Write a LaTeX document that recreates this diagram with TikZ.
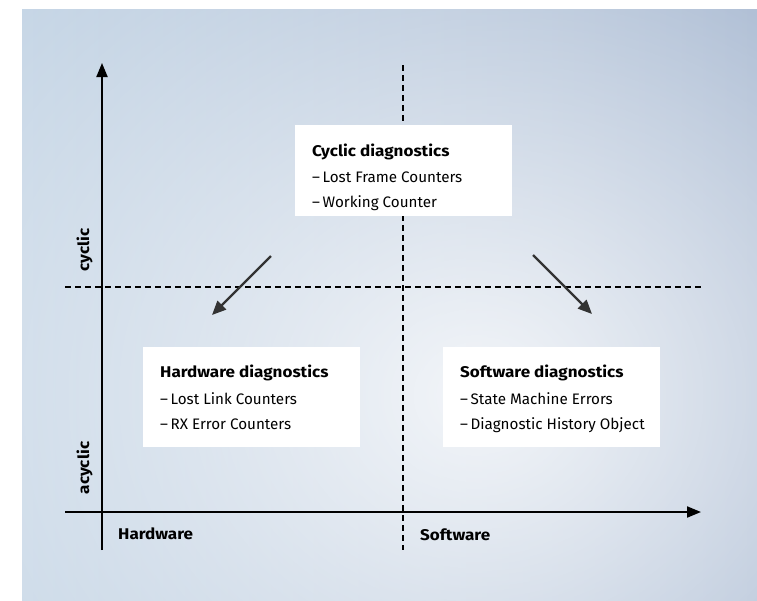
\documentclass[tikz,border=0pt]{standalone}
\usepackage{fontspec}
\setmainfont{Fira Sans}[BoldFeatures={FakeStretch=1.1}]
\usetikzlibrary{arrows.meta,fadings}

\definecolor{panelleft}{HTML}{C6D6E6}
\definecolor{panelright}{HTML}{A2B4CE}
\definecolor{arrowgray}{HTML}{333333}

\tikzfading[name=glowfade, inner color=transparent!0, outer color=transparent!100]

\tikzset{
  axis/.style={line width=2pt, black, -{Triangle[length=14pt,width=11pt]}},
  divider/.style={line width=1.7pt, black, dash pattern=on 6pt off 4pt},
  flow/.style={line width=2.4pt, arrowgray, -{Triangle[length=14pt,width=12pt]}},
  infobox/.style={fill=white, draw=none, minimum width=217pt, inner sep=0pt},
  boxtitle/.style={anchor=base west, inner sep=0pt, font=\fontsize{15.5}{18}\selectfont\bfseries},
  boxline/.style={anchor=base west, inner sep=0pt, font=\fontsize{15.2}{18}\selectfont},
  axislabel/.style={inner sep=0pt, font=\fontsize{15.5}{18}\selectfont\bfseries},
}

\begin{document}
\begin{tikzpicture}[x=1pt,y=-1pt]
\useasboundingbox (0,0) rectangle (757,600);

% background panel with a soft light glow
\shade[left color=panelleft, right color=panelright] (22,9) rectangle (757,600);
\begin{scope}
  \clip (22,9) rectangle (757,600);
  \fill[white, path fading=glowfade, opacity=0.85] (480,395) ellipse (640 and 560);
\end{scope}

% axis and divider end points
\coordinate (vaxisbot) at (102,550);
\coordinate (vaxistop) at (102,63);
\coordinate (haxisleft) at (65,512);
\coordinate (haxisright) at (701,512);
\coordinate (hdivL) at (65,287);
\coordinate (hdivR) at (702,287);
\coordinate (vdivT) at (403,65);
\coordinate (vdivB) at (403,550);

% dashed quadrant dividers
\draw[divider] (hdivL) -- (hdivR);
\draw[divider] (vdivT) -- (vdivB);

% axes
\draw[axis] (vaxisbot) -- (vaxistop);
\draw[axis] (haxisleft) -- (haxisright);

% axis labels
\node[axislabel, anchor=base west] (hwlabel) at (118,539) {Hardware};
\node[axislabel, anchor=base west] (swlabel) at (420,540) {Software};
\node[axislabel, rotate=90, anchor=base] (cyclabel) at (89,250) {cyclic};
\node[axislabel, rotate=90, anchor=base] (acyclabel) at (89,468) {acyclic};

% boxes
\node[infobox, minimum height=91pt, anchor=north west] (cyc) at (295,125) {};
\node[infobox, minimum height=100pt, anchor=north west] (hw) at (143,347) {};
\node[infobox, minimum height=100pt, anchor=north west] (sw) at (443,347) {};

% box texts
\node[boxtitle] (cyctitle) at ([shift={(17,31)}]cyc.north west) {Cyclic diagnostics};
\node[boxline] (cyca) at ([shift={(17,57.5)}]cyc.north west) {–\,Lost Frame Counters};
\node[boxline] (cycb) at ([shift={(17,82)}]cyc.north west) {–\,Working Counter};

\node[boxtitle] (hwtitle) at ([shift={(17,30)}]hw.north west) {Hardware diagnostics};
\node[boxline] (hwa) at ([shift={(17,57)}]hw.north west) {–\,Lost Link Counters};
\node[boxline] (hwb) at ([shift={(17,82)}]hw.north west) {–\,RX Error Counters};

\node[boxtitle] (swtitle) at ([shift={(17,30)}]sw.north west) {Software diagnostics};
\node[boxline] (swa) at ([shift={(17,57)}]sw.north west) {–\,State Machine Errors};
\node[boxline] (swb) at ([shift={(17,82)}]sw.north west) {–\,Diagnostic History Object};

% flow arrows
\coordinate (flowLs) at (271,256);
\coordinate (flowLe) at (212,315);
\coordinate (flowRs) at (533,255);
\coordinate (flowRe) at (592,314);
\draw[flow] (flowLs) -- (flowLe);
\draw[flow] (flowRs) -- (flowRe);
\end{tikzpicture}
\end{document}
